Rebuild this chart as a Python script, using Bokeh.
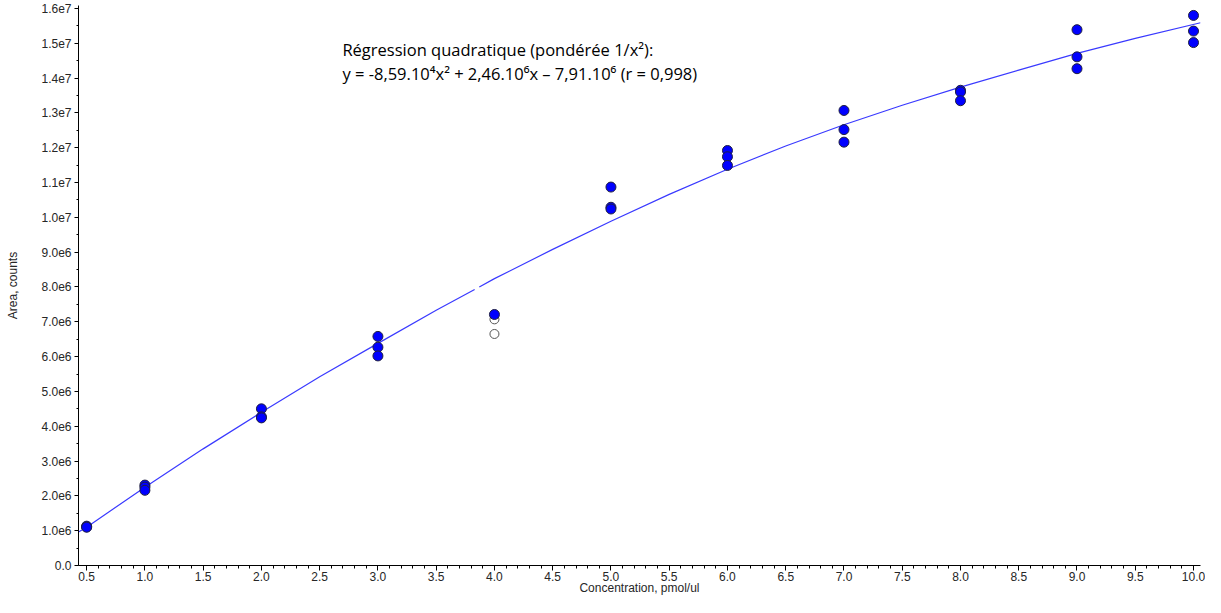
from bokeh.plotting import figure
from bokeh.models import FixedTicker, Label, Range1d, NumeralTickFormatter
from bokeh.embed import file_html
from bokeh.resources import INLINE

# ---- data ----
conc_used = [0.5, 0.5, 0.5, 1.0, 1.0, 1.0, 2.0, 2.0, 2.0, 3.0, 3.0, 3.0, 4.0,
             5.0, 5.0, 5.0, 6.0, 6.0, 6.0, 7.0, 7.0, 7.0, 8.0, 8.0, 8.0,
             9.0, 9.0, 9.0, 10.0, 10.0, 10.0]
area_used = [1.13e6, 1.11e6, 1.10e6, 2.31e6, 2.25e6, 2.16e6, 4.50e6, 4.27e6, 4.24e6,
             6.58e6, 6.27e6, 6.02e6, 7.21e6,
             10.87e6, 10.29e6, 10.24e6, 11.92e6, 11.74e6, 11.49e6,
             13.07e6, 12.52e6, 12.16e6, 13.65e6, 13.60e6, 13.35e6,
             15.39e6, 14.61e6, 14.27e6, 15.80e6, 15.35e6, 15.02e6]
conc_excluded = [4.0, 4.0]
area_excluded = [7.07e6, 6.65e6]

fit_x_a = [0.43, 0.5, 1.0, 1.5, 2.0, 2.5, 3.0, 3.5, 3.83]
fit_y_a = [0.96e6, 1.10e6, 2.25e6, 3.35e6, 4.40e6, 5.42e6, 6.38e6, 7.33e6, 7.93e6]
fit_x_b = [3.87, 4.0, 4.5, 5.0, 5.5, 6.0, 6.5, 7.0, 7.5, 8.0, 8.5, 9.0, 9.5, 10.06]
fit_y_b = [8.00e6, 8.24e6, 9.08e6, 9.89e6, 10.66e6, 11.38e6, 12.05e6, 12.66e6,
           13.22e6, 13.74e6, 14.23e6, 14.71e6, 15.14e6, 15.59e6]

x_ticks = [0.5, 1.0, 1.5, 2.0, 2.5, 3.0, 3.5, 4.0, 4.5, 5.0, 5.5, 6.0, 6.5,
           7.0, 7.5, 8.0, 8.5, 9.0, 9.5, 10.0]
y_ticks = [0, 1e6, 2e6, 3e6, 4e6, 5e6, 6e6, 7e6, 8e6, 9e6, 1e7, 1.1e7, 1.2e7,
           1.3e7, 1.4e7, 1.5e7, 1.6e7]
y_tick_labels = ["0.0", "1.0e6", "2.0e6", "3.0e6", "4.0e6", "5.0e6", "6.0e6",
                 "7.0e6", "8.0e6", "9.0e6", "1.0e7", "1.1e7", "1.2e7", "1.3e7",
                 "1.4e7", "1.5e7", "1.6e7"]
x_minor = [round(0.4 + 0.1 * i, 1) for i in range(98)]
y_minor = [5e5 * i for i in range(33)]

x_title = "Concentration, pmol/ul"
y_title = "Area, counts"
title_line1 = "Régression quadratique (pondérée 1/x²):"
title_line2 = "y = -8,59.10⁴x² + 2,46.10⁶x – 7,91.10⁶ (r = 0,998)"

X0, X1 = 0.43, 10.06
Y0, Y1 = 0, 1.6085e7

p = figure(width=1205, height=597, output_backend="svg", toolbar_location=None,
           x_range=Range1d(X0, X1), y_range=Range1d(Y0, Y1),
           min_border_left=78, min_border_right=5, min_border_top=5,
           min_border_bottom=0)
p.outline_line_color = None
p.xgrid.visible = False
p.ygrid.visible = False
p.background_fill_color = "white"

# fit curve
p.line(fit_x_a, fit_y_a, line_color="#3a3aff", line_width=1.2)
p.line(fit_x_b, fit_y_b, line_color="#3a3aff", line_width=1.2)

# points
p.scatter(conc_excluded, area_excluded, size=9, fill_color="white",
          line_color="#555555", line_width=1)
p.scatter(conc_used, area_used, size=10, fill_color="#0000ff",
          line_color="#202040", line_width=1)

# axes
xa = p.xaxis[0]
xa.ticker = FixedTicker(ticks=x_ticks, minor_ticks=x_minor)
xa.formatter = NumeralTickFormatter(format="0.0")
xa.axis_label = x_title
ya = p.yaxis[0]
ya.ticker = FixedTicker(ticks=y_ticks, minor_ticks=y_minor)
ya.major_label_overrides = {t: l for t, l in zip(y_ticks, y_tick_labels)}
ya.axis_label = y_title

for ax in (xa, ya):
    ax.axis_line_color = "black"
    ax.major_tick_line_color = "black"
    ax.minor_tick_line_color = "black"
    ax.major_tick_in = 0
    ax.minor_tick_in = 0
    ax.major_label_text_font = "Liberation Sans"
    ax.major_label_text_font_size = "12px"
    ax.major_label_text_color = "#262626"
    ax.axis_label_text_font = "Liberation Sans"
    ax.axis_label_text_font_size = "12px"
    ax.axis_label_text_font_style = "normal"
    ax.axis_label_text_color = "#262626"

xa.major_tick_out = 5
xa.minor_tick_out = 3
xa.major_label_standoff = 1
xa.axis_label_standoff = -3
ya.major_tick_out = 4
ya.minor_tick_out = 2
ya.major_label_standoff = 3
ya.axis_label_standoff = 18

p.add_layout(Label(x=2.695, y=14.83e6, text=title_line1, text_font="Open Sans",
                   text_font_size="16.5px", text_color="black",
                   text_baseline="alphabetic"))
p.add_layout(Label(x=2.695, y=14.14e6, text=title_line2, text_font="Open Sans",
                   text_font_size="16.5px", text_color="black",
                   text_baseline="alphabetic"))

open("out.html", "w").write(file_html(p, INLINE))
